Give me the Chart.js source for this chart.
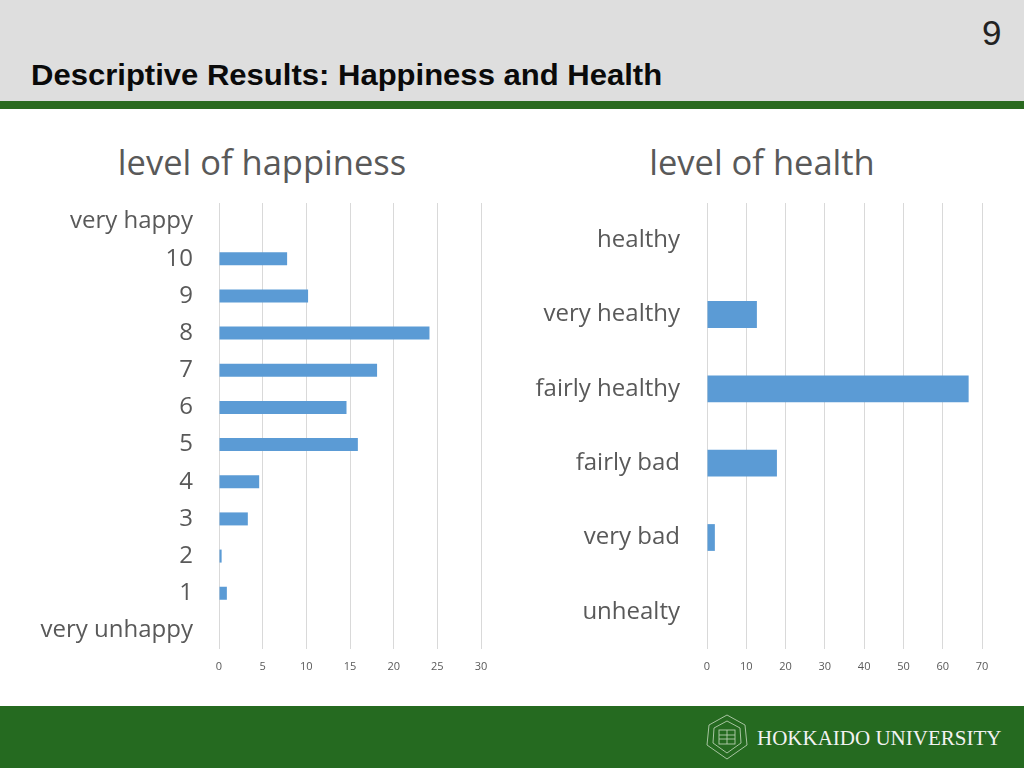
<!DOCTYPE html>
<html>
<head>
<meta charset="utf-8">
<script src="https://cdn.jsdelivr.net/npm/chart.js@4.4.1/dist/chart.umd.min.js"></script>
<style>
  html, body { margin:0; padding:0; width:1024px; height:768px; overflow:hidden; background:#ffffff; }
  #header { position:absolute; left:0; top:0; width:1024px; height:101px; background:#dedede; }
  #greenline { position:absolute; left:0; top:101px; width:1024px; height:8px; background:#2a6a1f; }
  #title { position:absolute; left:31px; top:61px; font-family:"Liberation Sans Narrow","Arial Narrow","Liberation Sans",sans-serif; font-weight:bold; font-size:29px; color:#0a0a0a; white-space:nowrap; line-height:1; transform:scaleX(1.07); transform-origin:0 0; }
  #pnum { position:absolute; left:982px; top:15px; font-family:"Liberation Sans Narrow","Arial Narrow","Liberation Sans",sans-serif; font-size:35px; color:#222; line-height:1; }
  .ctitle { position:absolute; top:140px; font-family:"Open Sans",sans-serif; font-size:34.5px; color:#595959; white-space:nowrap; text-align:center; line-height:44px; }
  #footer { position:absolute; left:0; top:706px; width:1024px; height:62px; background:#256a20; }
  #uni { position:absolute; left:757px; top:726px; font-family:"Liberation Serif","DejaVu Serif",serif; font-size:21px; color:#f2f2f2; white-space:nowrap; line-height:24px; }
  #emb { position:absolute; left:704px; top:713px; }
  canvas { position:absolute; }
</style>
</head>
<body>
<div id="header"></div>
<div id="greenline"></div>
<div id="title">Descriptive Results: Happiness and Health</div>
<div id="pnum">9</div>
<div class="ctitle" style="left:62px;width:400px;">level of happiness</div>
<div class="ctitle" style="left:562px;width:400px;">level of health</div>
<canvas id="c1" width="500" height="490" style="left:0px;top:196px;"></canvas>
<canvas id="c2" width="524" height="490" style="left:500px;top:196px;"></canvas>
<div id="footer"></div>
<svg id="emb" width="46" height="48" viewBox="0 0 46 48">
  <g fill="none" stroke="#cfe0c8" stroke-width="0.9" opacity="0.85">
    <polygon points="23,2 41,12 43,32 23,46 3,32 5,12"/>
    <polygon points="23,8 36,15 37,30 23,40 9,30 10,15"/>
    <rect x="15" y="17" width="16" height="14"/>
    <line x1="15" y1="22" x2="31" y2="22"/>
    <line x1="15" y1="26" x2="31" y2="26"/>
    <line x1="23" y1="17" x2="23" y2="31"/>
  </g>
</svg>
<div id="uni">HOKKAIDO UNIVERSITY</div>
<script>
// ---- data ----
const happinessLabels = ['very happy','10','9','8','7','6','5','4','3','2','1','very unhappy'];
const happinessValues = [null, 7.8, 10.2, 24.1, 18.1, 14.6, 15.9, 4.6, 3.3, 0.3, 0.9, null];
const happinessTicks  = [0, 5, 10, 15, 20, 25, 30];

const healthLabels = ['healthy','very healthy','fairly healthy','fairly bad','very bad','unhealty'];
const healthValues = [null, 12.7, 66.6, 17.8, 2.0, null];
const healthTicks  = [0, 10, 20, 30, 40, 50, 60, 70];

const barColor = '#5b9bd5';
const gridColor = '#d9d9d9';
const textColor = '#595959';

function makeChart(id, labels, values, ticks, yAxisWidth, padRight, barPct, labelPad) {
  const maxV = ticks[ticks.length - 1];
  const step = ticks[1] - ticks[0];
  return new Chart(document.getElementById(id), {
    type: 'bar',
    data: {
      labels: labels,
      datasets: [{
        data: values,
        backgroundColor: barColor,
        borderWidth: 0,
        categoryPercentage: 1.0,
        barPercentage: barPct
      }]
    },
    options: {
      indexAxis: 'y',
      responsive: false,
      animation: false,
      events: [],
      layout: { padding: { top: 7, right: padRight, bottom: 0, left: 0 } },
      plugins: { legend: { display: false }, tooltip: { enabled: false }, title: { display: false } },
      scales: {
        x: {
          min: 0, max: maxV,
          afterBuildTicks: (s) => { s.ticks = ticks.map(v => ({ value: v })); },
          ticks: { stepSize: step, color: textColor, font: { family: 'Open Sans', size: 11 }, padding: 11, maxRotation: 0 },
          grid: { color: gridColor, lineWidth: 1, drawTicks: false },
          border: { display: false },
          afterFit: (s) => { s.height = 37; s.paddingLeft = 0; s.paddingRight = 0; }
        },
        y: {
          grid: { display: false, drawTicks: false },
          border: { display: false },
          ticks: { color: textColor, font: { family: 'Open Sans', size: 24 }, padding: labelPad, autoSkip: false },
          afterFit: (s) => { s.width = yAxisWidth; s.paddingTop = 0; s.paddingBottom = 0; }
        }
      }
    }
  });
}

makeChart('c1', happinessLabels, happinessValues, happinessTicks, 219, 19, 0.35, 26);
makeChart('c2', healthLabels, healthValues, healthTicks, 207, 42, 0.36, 27);
</script>
</body>
</html>
